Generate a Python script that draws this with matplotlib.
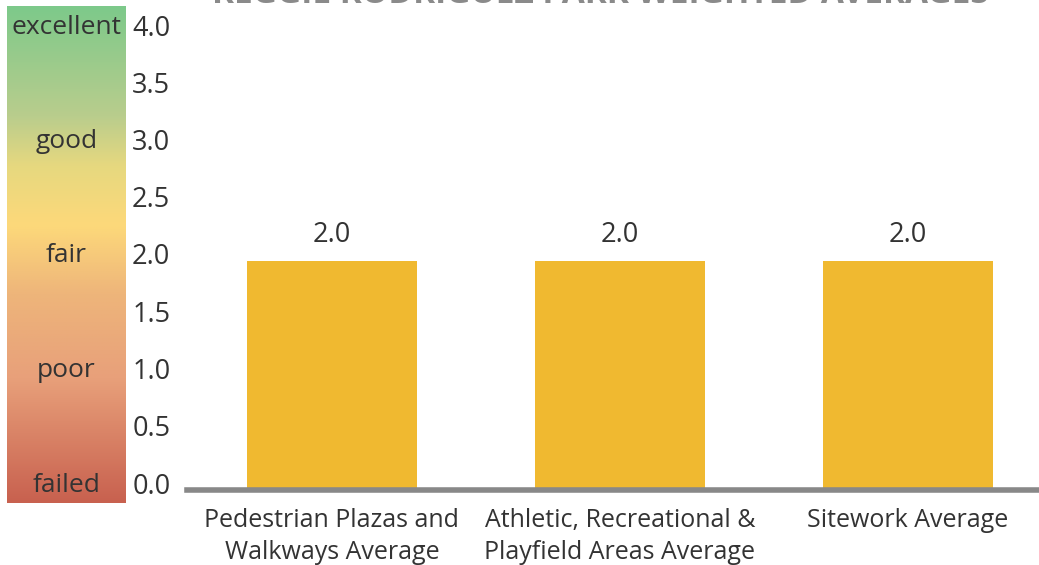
import numpy as np
import matplotlib.pyplot as plt
from matplotlib.colors import LinearSegmentedColormap
import matplotlib.transforms as mtransforms

plt.rcParams['font.family'] = ['Open Sans', 'DejaVu Sans']

# data
categories = ['Pedestrian Plazas and\nWalkways Average',
              'Athletic, Recreational &\nPlayfield Areas Average',
              'Sitework Average']
values = [2.0, 2.0, 2.0]
yticks = [0.0, 0.5, 1.0, 1.5, 2.0, 2.5, 3.0, 3.5, 4.0]
ratings = ['failed', 'poor', 'fair', 'good', 'excellent']
rating_vals = [0, 1, 2, 3, 4]
title = 'REGGIE RODRIGUEZ PARK WEIGHTED AVERAGES'

W, H = 1039, 565
fig = plt.figure(figsize=(W / 100, H / 100), dpi=100)

def px_axes(x0, y0, x1, y1):
    # pixel box (top-left origin) -> figure axes
    return fig.add_axes([x0 / W, 1 - y1 / H, (x1 - x0) / W, (y1 - y0) / H])

text_col = '#333333'

# gradient legend strip
cmap = LinearSegmentedColormap.from_list('cond', [
    (0.0, '#C8614F'), (0.25, '#E8A07A'), (0.42, '#EEB57A'),
    (0.56, '#FDD97A'), (0.68, '#E6D87F'), (0.78, '#B9CD8D'),
    (1.0, '#7DC98A')])
gax = px_axes(7, 6, 126, 503)
grad = np.linspace(0, 1, 256).reshape(-1, 1)
gax.imshow(grad, aspect='auto', cmap=cmap, origin='lower',
           extent=[0, 1, 0, 1])
gax.set_xlim(0, 1)
gax.set_ylim(0, 1)
gax.axis('off')

# main bar axes
ax = px_axes(187, 32, 1039, 490)
x = np.arange(len(categories))
ax.bar(x, values, width=0.59, color='#F0B930', zorder=2)
ax.set_xlim(-0.503, 2.455)
ax.set_ylim(0, 4)
for s in ax.spines.values():
    s.set_visible(False)
ax.axhline(0, color='#888888', lw=4, zorder=3, clip_on=False)

for xi, v in zip(x, values):
    ax.text(xi, v + 0.227, f'{v:.1f}', ha='center', va='center',
            fontsize=19.5, color=text_col)

ax.set_xticks(x)
ax.set_xticklabels(categories, fontsize=18, color=text_col, linespacing=1.38)
ax.tick_params(axis='x', length=0, pad=13)

ax.set_yticks(yticks)
ax.set_yticklabels([f'{t:.1f}' for t in yticks], fontsize=19.5, color=text_col)
ax.tick_params(axis='y', length=0, pad=12)
shift = mtransforms.ScaledTranslation(0, 7 / 100, fig.dpi_scale_trans)
for lab in ax.get_yticklabels():
    lab.set_transform(lab.get_transform() + shift)

# rating words on the strip, level with the tick labels
word_shift = mtransforms.ScaledTranslation(0, 5 / 100, fig.dpi_scale_trans)
word_tr = mtransforms.blended_transform_factory(gax.transAxes, ax.transData) + word_shift
for r, rv in zip(ratings, rating_vals):
    ax.text(0.5, rv, r, ha='center', va='center', fontsize=19,
            color=text_col, transform=word_tr)

# title, mostly cut off at the top edge
fig.text(600 / W, 1 - 3 / H, title, ha='center', va='baseline',
         fontsize=24, fontweight='bold', color='#8a8a8a')

fig.savefig('out.png', dpi=100)
